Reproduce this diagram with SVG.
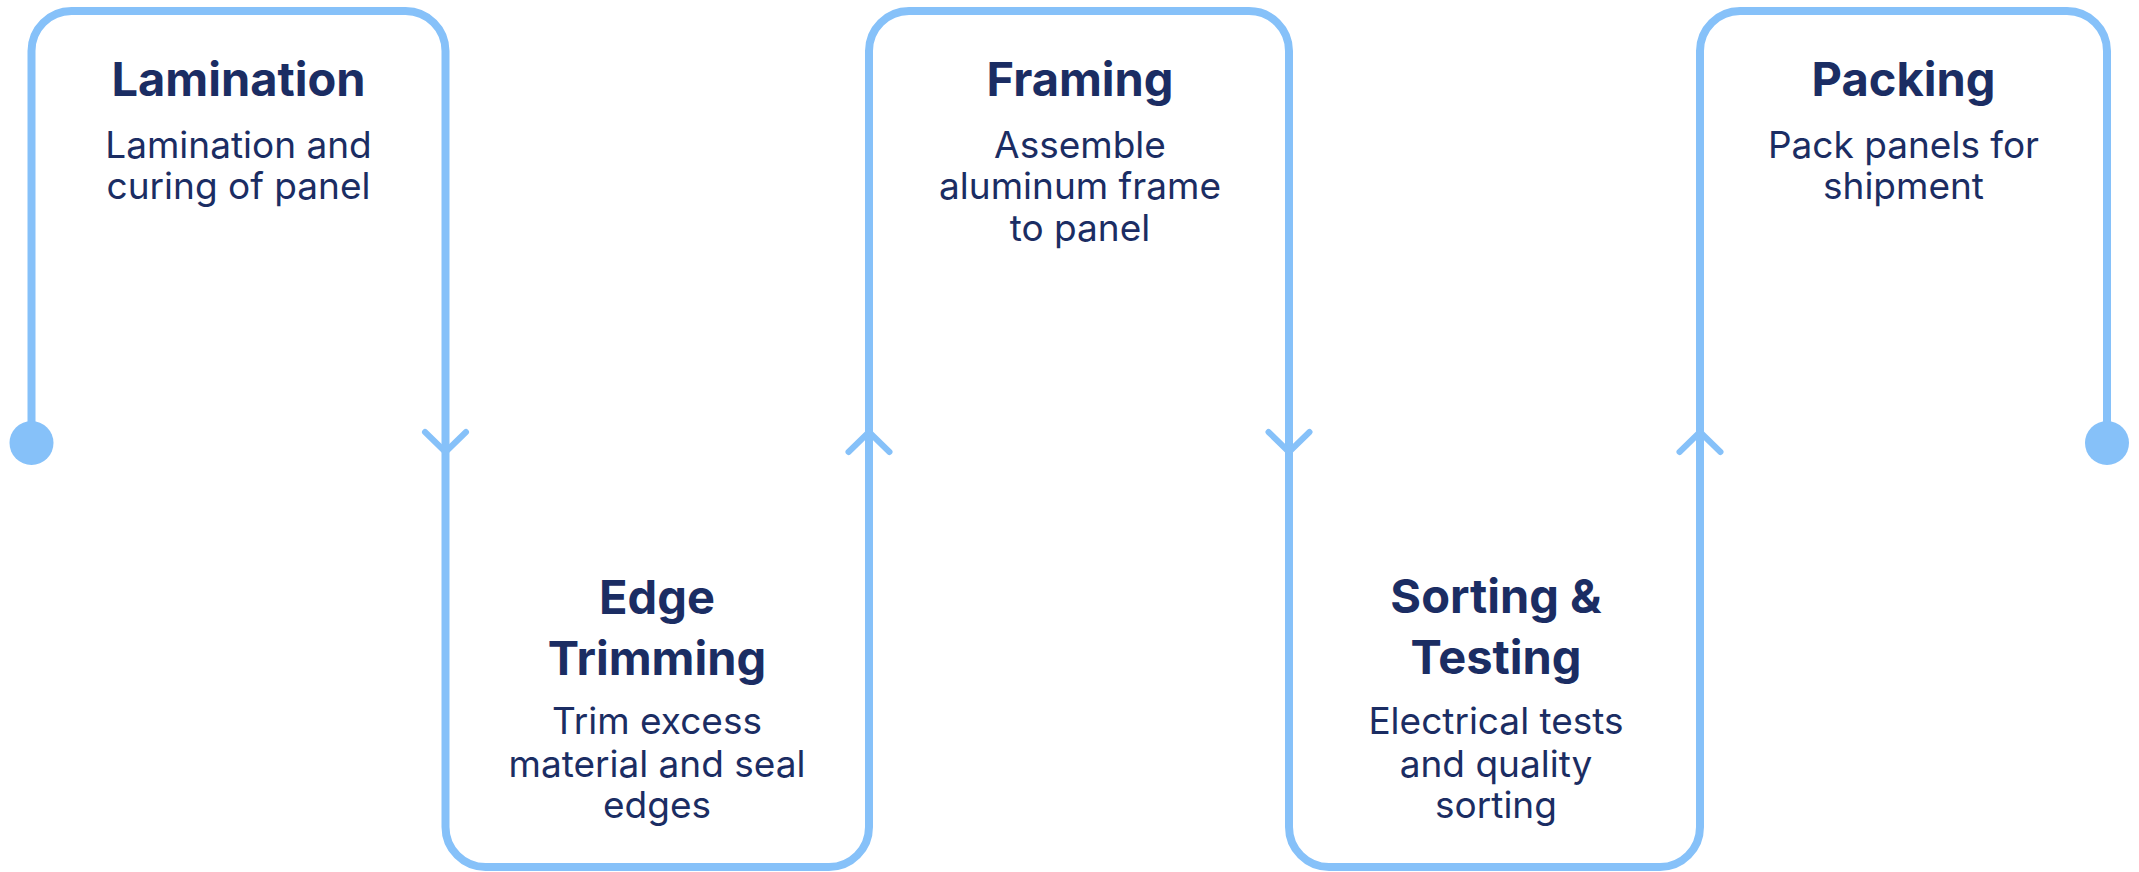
<svg xmlns="http://www.w3.org/2000/svg" width="2139" height="872" viewBox="0 0 2139 872">
<style>
.line{fill:none;stroke:#86c1f9;stroke-width:8;stroke-linejoin:round}
.arrow{fill:none;stroke:#86c1f9;stroke-width:6;stroke-linecap:round;stroke-linejoin:round}
.dot{fill:#86c1f9}
.title{font-family:Inter,"Liberation Sans",sans-serif;font-weight:700;font-size:47px;fill:#1b2d63;text-anchor:middle}
.desc{font-family:Inter,"Liberation Sans",sans-serif;font-weight:400;font-size:37px;fill:#1b2d63;text-anchor:middle}
</style>
<rect width="2139" height="872" fill="#ffffff"/>
<g id="connectors">
<path class="line" d="M31.5 443 V51 A40 40 0 0 1 71.5 11 H405.5 A40 40 0 0 1 445.5 51 V827 A40 40 0 0 0 485.5 867 H829 A40 40 0 0 0 869 827 V51 A40 40 0 0 1 909 11 H1249 A40 40 0 0 1 1289 51 V827 A40 40 0 0 0 1329 867 H1660 A40 40 0 0 0 1700 827 V51 A40 40 0 0 1 1740 11 H2067 A40 40 0 0 1 2107 51 V443"/>
<circle class="dot" cx="31.5" cy="443" r="22"/>
<circle class="dot" cx="2107" cy="443" r="22"/>
<path class="arrow" d="M425 432 L445.5 452 L466 432"/>
<path class="arrow" d="M848.5 452 L869 432 L889.5 452"/>
<path class="arrow" d="M1268.5 432 L1289 452 L1309.5 432"/>
<path class="arrow" d="M1679.5 452 L1700 432 L1720.5 452"/>
</g>
<g id="node-lamination">
<text class="title" x="238.5" y="96">Lamination</text>
<text class="desc" x="238.5" y="158">Lamination and</text>
<text class="desc" x="238.5" y="199">curing of panel</text>
</g>
<g id="node-edge-trimming">
<text class="title" x="657" y="614">Edge</text>
<text class="title" x="657" y="675">Trimming</text>
<text class="desc" x="657" y="734">Trim excess</text>
<text class="desc" x="657" y="777">material and seal</text>
<text class="desc" x="657" y="818">edges</text>
</g>
<g id="node-framing">
<text class="title" x="1080" y="96">Framing</text>
<text class="desc" x="1080" y="158">Assemble</text>
<text class="desc" x="1080" y="199">aluminum frame</text>
<text class="desc" x="1080" y="241">to panel</text>
</g>
<g id="node-sorting-testing">
<text class="title" x="1496" y="613">Sorting &amp;</text>
<text class="title" x="1496" y="674">Testing</text>
<text class="desc" x="1496" y="734">Electrical tests</text>
<text class="desc" x="1496" y="777">and quality</text>
<text class="desc" x="1496" y="818">sorting</text>
</g>
<g id="node-packing">
<text class="title" x="1903.5" y="96">Packing</text>
<text class="desc" x="1903.5" y="158">Pack panels for</text>
<text class="desc" x="1903.5" y="199">shipment</text>
</g>
</svg>
